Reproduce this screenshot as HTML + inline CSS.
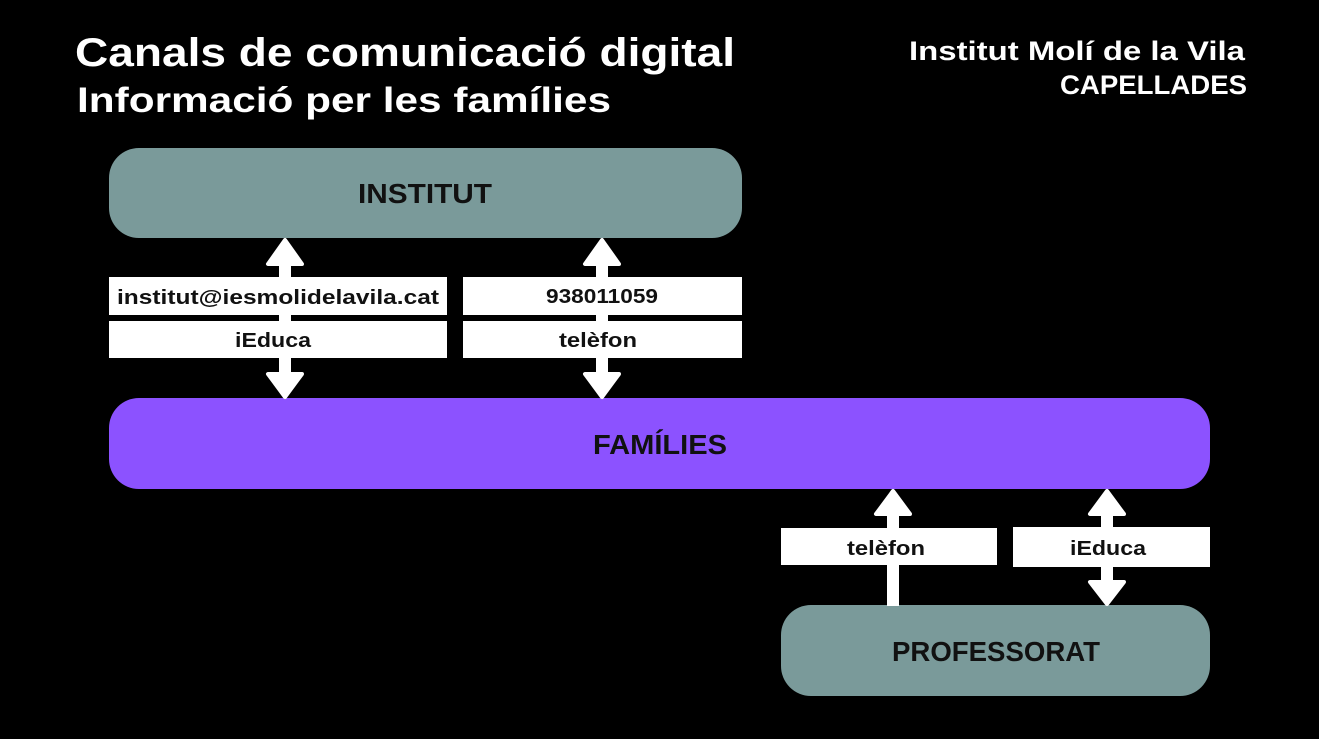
<!DOCTYPE html>
<html><head><meta charset="utf-8"><style>
html,body{margin:0;padding:0;background:#000;}
svg{display:block;}
text{font-family:"Liberation Sans",sans-serif;font-weight:bold;}
</style></head><body>
<svg width="1319" height="739" viewBox="0 0 1319 739" xmlns="http://www.w3.org/2000/svg">
<rect width="1319" height="739" fill="#000"/>
<text x="75" y="66" font-size="40" fill="#fff" textLength="660" lengthAdjust="spacingAndGlyphs">Canals de comunicació digital</text>
<text x="77" y="112" font-size="35" fill="#fff" textLength="534" lengthAdjust="spacingAndGlyphs">Informació per les famílies</text>
<text x="1245" y="60" font-size="27" fill="#fff" text-anchor="end" textLength="336" lengthAdjust="spacingAndGlyphs">Institut Molí de la Vila</text>
<text x="1247" y="94" font-size="27" fill="#fff" text-anchor="end" textLength="187" lengthAdjust="spacingAndGlyphs">CAPELLADES</text>

<rect x="109" y="148" width="633" height="90" rx="30" fill="#7a9a9a"/>
<text x="425" y="203" font-size="28" fill="#111" text-anchor="middle" textLength="134" lengthAdjust="spacingAndGlyphs">INSTITUT</text>
<rect x="109" y="398" width="1101" height="91" rx="30" fill="#8c52ff"/>
<text x="660" y="454" font-size="28" fill="#111" text-anchor="middle" textLength="134" lengthAdjust="spacingAndGlyphs">FAMÍLIES</text>
<rect x="781" y="605" width="429" height="91" rx="30" fill="#7a9a9a"/>
<text x="996" y="661" font-size="28" fill="#111" text-anchor="middle" textLength="208" lengthAdjust="spacingAndGlyphs">PROFESSORAT</text>

<g fill="#fff" stroke="#fff" stroke-width="4" stroke-linejoin="round">
<rect x="279" y="262" width="12" height="114" stroke="none"/>
<polygon points="285,240 268,264 302,264"/>
<polygon points="285,397 268,374 302,374"/>
<rect x="596" y="262" width="12" height="114" stroke="none"/>
<polygon points="602,240 585,264 619,264"/>
<polygon points="602,397 585,374 619,374"/>
<rect x="887" y="512" width="12" height="94" stroke="none"/>
<polygon points="893,491 876,514 910,514"/>
<rect x="1101" y="512" width="12" height="72" stroke="none"/>
<polygon points="1107,491 1090,514 1124,514"/>
<polygon points="1107,604 1090,582 1124,582"/>
</g>

<rect x="109" y="277" width="338" height="38" fill="#fff"/>
<text x="278" y="304" font-size="20" fill="#111" text-anchor="middle" textLength="322" lengthAdjust="spacingAndGlyphs">institut@iesmolidelavila.cat</text>
<rect x="109" y="321" width="338" height="37" fill="#fff"/>
<text x="273" y="347" font-size="20" fill="#111" text-anchor="middle" textLength="76" lengthAdjust="spacingAndGlyphs">iEduca</text>
<rect x="463" y="277" width="279" height="38" fill="#fff"/>
<text x="602" y="303" font-size="20" fill="#111" text-anchor="middle" textLength="112" lengthAdjust="spacingAndGlyphs">938011059</text>
<rect x="463" y="321" width="279" height="37" fill="#fff"/>
<text x="598" y="347" font-size="20" fill="#111" text-anchor="middle" textLength="78" lengthAdjust="spacingAndGlyphs">telèfon</text>
<rect x="781" y="528" width="216" height="37" fill="#fff"/>
<text x="886" y="555" font-size="20" fill="#111" text-anchor="middle" textLength="78" lengthAdjust="spacingAndGlyphs">telèfon</text>
<rect x="1013" y="527" width="197" height="40" fill="#fff"/>
<text x="1108" y="555" font-size="20" fill="#111" text-anchor="middle" textLength="76" lengthAdjust="spacingAndGlyphs">iEduca</text>
</svg>
</body></html>
